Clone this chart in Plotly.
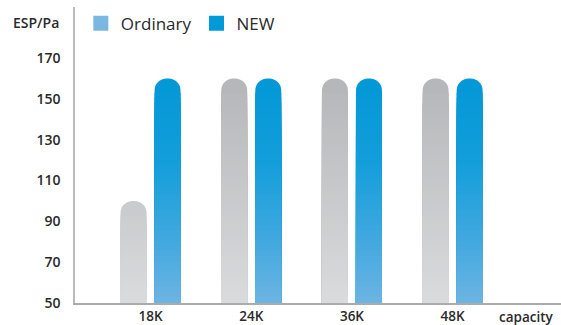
import plotly.graph_objects as go

# ---- data -------------------------------------------------------------
categories = ["18K", "24K", "36K", "48K"]
ordinary = [100, 160, 160, 160]
new = [160, 160, 160, 160]
y_ticks = [50, 70, 90, 110, 130, 150, 170]

# ---- styling ----------------------------------------------------------
Y_MIN, Y_MAX = 50, 195
BAR_W = 0.258          # bar width in category units
BAR_SHIFT = 0.169      # half distance between the two bars of a group
CAP = 7                # value span kept at the top colour under the rounded end
STEP = 2.5             # vertical resolution of the colour ramp

# colour ramps as (value, (r, g, b)) stops, bottom to top
GRAY_RAMP = [(50, (218, 219, 221)), (160, (180, 182, 185))]
BLUE_RAMP = [(50, (108, 181, 227)), (85, (60, 167, 222)),
             (120, (18, 158, 218)), (160, (4, 151, 215))]


def ramp_color(ramp, v):
    if v <= ramp[0][0]:
        c = ramp[0][1]
    elif v >= ramp[-1][0]:
        c = ramp[-1][1]
    else:
        for (v0, c0), (v1, c1) in zip(ramp, ramp[1:]):
            if v0 <= v <= v1:
                t = (v - v0) / (v1 - v0)
                c = tuple(round(a + (b - a) * t) for a, b in zip(c0, c1))
                break
    return "rgb(%d,%d,%d)" % c


# every bar: (x position, value, ramp)
bars = []
for i, (o, n) in enumerate(zip(ordinary, new)):
    bars.append((i - BAR_SHIFT, o, GRAY_RAMP))
    bars.append((i + BAR_SHIFT, n, BLUE_RAMP))

# full-height rounded bars in the top colour
full_x = [b[0] for b in bars]
full_v = [b[1] - Y_MIN for b in bars]
full_c = [ramp_color(b[2], b[1] - CAP / 2) for b in bars]

# shorter, lighter layers painted over them from the bottom, tallest first,
# so the fill runs light -> dark upward without seams
shade_x, shade_h, shade_c = [], [], []
for x, v, ramp in bars:
    hi = v - CAP
    while hi > Y_MIN + 1e-9:
        lo = max(hi - STEP, Y_MIN)
        shade_x.append(x)
        shade_h.append(hi - Y_MIN)
        shade_c.append(ramp_color(ramp, (lo + hi) / 2))
        hi = lo

fig = go.Figure()

fig.add_trace(go.Bar(
    x=full_x, y=full_v, base=Y_MIN, width=BAR_W,
    marker=dict(color=full_c, line=dict(width=0), cornerradius=13),
    showlegend=False, hoverinfo="skip",
))
fig.add_trace(go.Bar(
    x=shade_x, y=shade_h, base=Y_MIN, width=BAR_W,
    marker=dict(color=shade_c, line=dict(width=0)),
    showlegend=False, hoverinfo="skip",
))

# legend entries
fig.add_trace(go.Scatter(
    x=[None], y=[None], mode="markers", name="Ordinary",
    marker=dict(symbol="square", size=15, color="#7ab8e2"),
))
fig.add_trace(go.Scatter(
    x=[None], y=[None], mode="markers", name="NEW",
    marker=dict(symbol="square", size=15, color="#009ad9"),
))

FONT = "Open Sans"
TXT = "#2a2a2a"

fig.update_layout(
    width=561, height=325,
    margin=dict(l=75, r=0, t=7, b=22, autoexpand=False),
    paper_bgcolor="white", plot_bgcolor="white",
    barmode="overlay",
    font=dict(family=FONT, color=TXT),
    showlegend=True,
    legend=dict(
        orientation="h", x=0.012, xanchor="left", y=0.944, yanchor="middle",
        font=dict(family=FONT, size=17, color=TXT),
        itemsizing="trace", bgcolor="rgba(0,0,0,0)",
    ),
    xaxis=dict(
        range=[-0.75, 4.076],
        tickmode="array", tickvals=list(range(len(categories))),
        ticktext=categories,
        tickfont=dict(family=FONT, size=13.5, color=TXT, weight=600),
        showgrid=False, zeroline=False,
        showline=True, linecolor="#ababab", linewidth=2,
        ticks="", ticklabelstandoff=0, automargin=False,
        fixedrange=True,
    ),
    yaxis=dict(
        range=[Y_MIN, Y_MAX],
        tickmode="array", tickvals=y_ticks,
        tickfont=dict(family=FONT, size=14, color=TXT, weight=600),
        showgrid=False, zeroline=False,
        showline=True, linecolor="#bababa", linewidth=1.5,
        ticks="", ticklabelstandoff=10, automargin=False,
        fixedrange=True,
    ),
    annotations=[
        dict(text="ESP/Pa", xref="paper", yref="paper",
             x=-0.0288, y=0.949, xanchor="right", yanchor="middle",
             showarrow=False,
             font=dict(family=FONT, size=14, color=TXT, weight=600)),
        dict(text="capacity", xref="paper", yref="paper",
             x=0.93, y=-0.046, xanchor="center", yanchor="middle",
             showarrow=False,
             font=dict(family=FONT, size=13.5, color=TXT, weight=600)),
    ],
)

fig.write_html("out.html")
